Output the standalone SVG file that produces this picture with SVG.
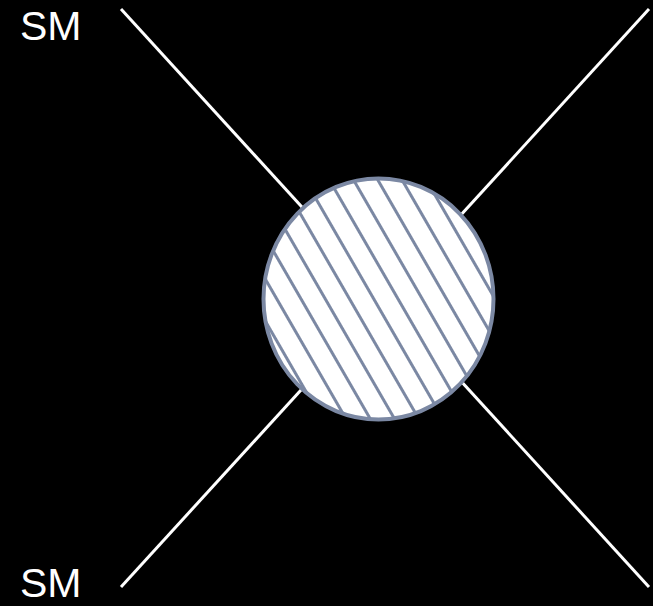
<svg xmlns="http://www.w3.org/2000/svg" width="653" height="606" viewBox="0 0 653 606">
<defs>
<style>
.leg{stroke:#ffffff;stroke-width:3;fill:none}
.lbl{font-family:"Liberation Sans",Arial,sans-serif;font-size:41px;fill:#ffffff}
</style>
<pattern id="hatch" patternUnits="userSpaceOnUse" width="21" height="40" patternTransform="translate(367.6,183.25) rotate(-30)">
<rect width="21" height="40" fill="#ffffff"/>
<line x1="10.5" y1="-5" x2="10.5" y2="45" stroke="#7b88a3" stroke-width="3"/>
</pattern>
</defs>
<rect width="653" height="606" fill="#000000"/>
<g id="connectors">
<line class="leg" x1="121" y1="9" x2="385" y2="298"/>
<line class="leg" x1="649" y1="9" x2="385" y2="298"/>
<line class="leg" x1="121" y1="587" x2="385" y2="298"/>
<line class="leg" x1="649" y1="587" x2="385" y2="298"/>
</g>
<g id="blob">
<ellipse cx="378.5" cy="299" rx="115" ry="120.5" fill="url(#hatch)" stroke="#7b88a3" stroke-width="4"/>
</g>
<g id="label-top"><text class="lbl" x="20" y="40">SM</text></g>
<g id="label-bottom"><text class="lbl" x="20" y="597">SM</text></g>
</svg>
